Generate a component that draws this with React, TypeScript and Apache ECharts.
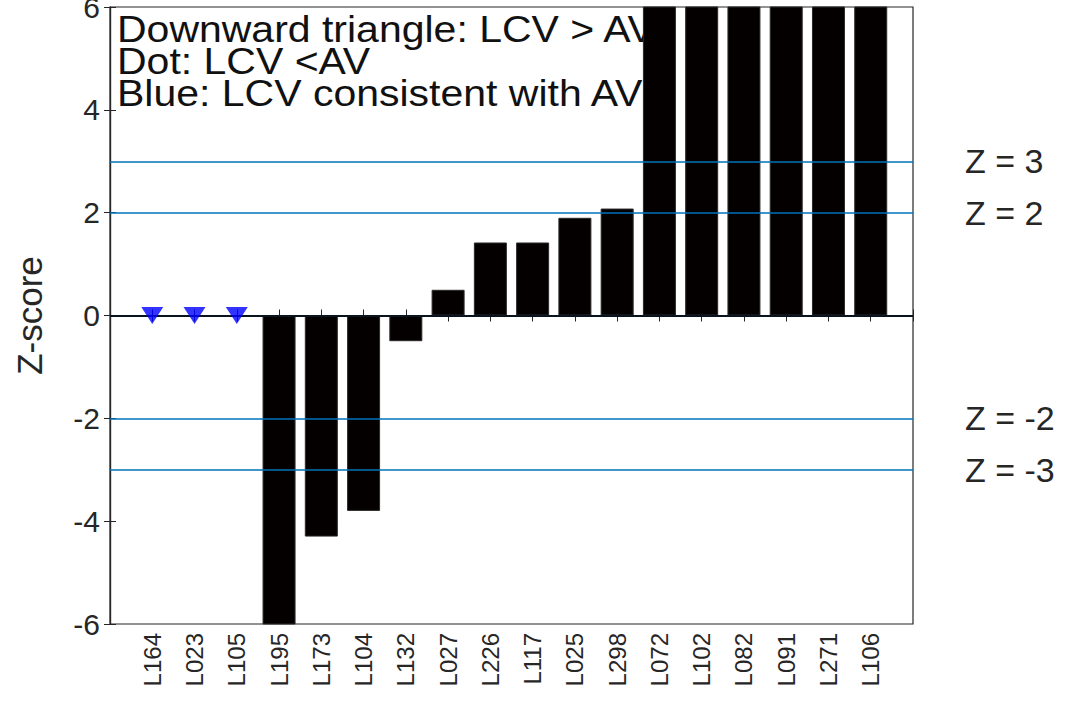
import React, { useEffect, useRef } from "react";
import * as echarts from "echarts";

const categories = ["L164","L023","L105","L195","L173","L104","L132","L027","L226","L117","L025","L298","L072","L102","L082","L091","L271","L106"];
// marker kind: "tri" = downward triangle (LCV > AV), "bar" = Z-score bar
const kinds = ["tri","tri","tri","bar","bar","bar","bar","bar","bar","bar","bar","bar","bar","bar","bar","bar","bar","bar"];
const zScores = [0, 0, 0, -6.8, -4.3, -3.8, -0.5, 0.5, 1.42, 1.42, 1.9, 2.08, 7.5, 8.2, 9.0, 9.8, 11.0, 12.5];
const zLines = [3, 2, -2, -3];
const zLineLabels = ["Z = 3", "Z = 2", "Z = -2", "Z = -3"];
const yTicks = { min: -6, max: 6, interval: 2 };
const noteLines = ["Downward triangle: LCV > AV", "Dot: LCV <AV", "Blue: LCV consistent with AV"];

const FONT = "Liberation Sans, Arial, Helvetica, sans-serif";
const TXT = "#262626";

export default function App() {
  const ref = useRef<HTMLDivElement>(null);
  useEffect(() => {
    if (!ref.current) return;
    const chart = echarts.init(ref.current, undefined, { renderer: "svg" });
    const n = categories.length;
    const barData: any[] = [];
    const triData: any[] = [];
    categories.forEach((c, i) => {
      if (kinds[i] === "bar") barData.push([i + 1, zScores[i]]);
      else triData.push([i + 1, zScores[i]]);
    });
    const xBase = {
      type: "value",
      min: 0,
      max: n + 1,
      interval: 1,
      splitLine: { show: false },
      axisLine: { lineStyle: { color: TXT, width: 1.2 } },
      axisTick: { inside: true, length: 6, lineStyle: { color: TXT } },
    };
    chart.setOption({
      animation: false,
      backgroundColor: "#ffffff",
      grid: {
        left: 110, right: 168, top: 7, bottom: 79,
        outerBoundsMode: "none",
        containLabel: false,
        show: true, borderColor: TXT, borderWidth: 1.2, backgroundColor: "transparent",
      },
      xAxis: [
        {
          ...xBase,
          position: "bottom",
          axisLabel: {
            rotate: 90,
            fontSize: 24,
            fontFamily: FONT,
            color: TXT,
            margin: 9,
            formatter: (v: number) => (v >= 1 && v <= n ? categories[v - 1] : ""),
          },
        },
        { ...xBase, position: "top", axisLabel: { show: false } },
      ],
      yAxis: [
        {
          type: "value",
          position: "left",
          ...yTicks,
          splitLine: { show: false },
          axisLine: { show: true, lineStyle: { color: TXT, width: 1.2 } },
          axisTick: { inside: true, length: 6, lineStyle: { color: TXT } },
          axisLabel: { fontSize: 30, fontFamily: FONT, color: TXT, margin: 10 },
          name: "Z-score",
          nameLocation: "middle",
          nameGap: 63,
          nameTextStyle: { fontSize: 35, fontFamily: FONT, color: TXT },
        },
        {
          type: "value",
          position: "right",
          ...yTicks,
          splitLine: { show: false },
          axisLine: { show: true, lineStyle: { color: TXT, width: 1.2 } },
          axisTick: { inside: true, length: 6, lineStyle: { color: TXT } },
          axisLabel: { show: false },
        },
      ],
      graphic: noteLines.map((t, i) => ({
        type: "text",
        x: 117,
        y: 29 + i * 32,
        z: 1,
        scaleY: 0.92,
        style: { text: t, x: 0, y: 0, verticalAlign: "middle", font: `41px ${FONT}`, fill: "#111111" },
      })),
      series: [
        {
          type: "bar",
          xAxisIndex: 0,
          yAxisIndex: 0,
          z: 3,
          barWidth: 33,
          clip: true,
          data: barData,
          itemStyle: { color: "#050000", borderColor: "#2a2a2a", borderWidth: 1 },
          markLine: {
            silent: true,
            symbol: "none",
            z: 4,
            lineStyle: { color: "#0072BD", width: 1.6, type: "solid" },
            label: {
              position: "end",
              distance: 52,
              fontSize: 34,
              fontFamily: FONT,
              color: TXT,
            },
            data: [
              ...zLines.map((v, i) => ({ yAxis: v, label: { formatter: zLineLabels[i] } })),
              { yAxis: 0, label: { show: false }, lineStyle: { color: "#0a1420", width: 2.2 } },
            ],
          },
        },
        {
          type: "scatter",
          xAxisIndex: 0,
          yAxisIndex: 0,
          z: 5,
          symbol: "triangle",
          symbolRotate: 180,
          symbolSize: [22, 17],
          data: triData,
          itemStyle: { color: "#0000FF" },
        },
      ],
    });
    return () => chart.dispose();
  }, []);
  return <div ref={ref} style={{ position: "absolute", left: 0, top: 0, width: 1081, height: 703 }} />;
}
